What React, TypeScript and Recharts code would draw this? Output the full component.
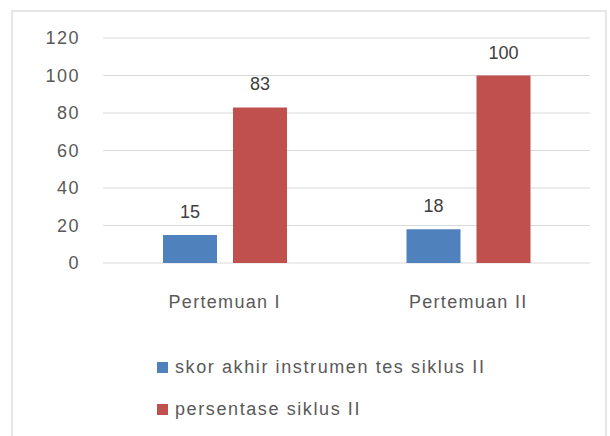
import { BarChart, Bar, XAxis, YAxis, CartesianGrid, LabelList } from 'recharts';

const categories = ['Pertemuan I', 'Pertemuan II'];
const skorAkhir = [15, 18];
const persentase = [83, 100];
const yTicks = [0, 20, 40, 60, 80, 100, 120];

const seriesNames = ['skor akhir instrumen tes siklus II', 'persentase siklus II'];
const seriesColors = ['#4f81bd', '#c0504d'];

const chartData = categories.map((name, i) => ({
  name,
  skor: skorAkhir[i],
  persen: persentase[i],
}));

const font = '"Liberation Sans", Arial, sans-serif';

export default function App() {
  return (
    <div
      style={{
        position: 'absolute',
        left: 0,
        top: 0,
        width: 610,
        height: 436,
        background: '#fff',
        fontFamily: font,
        overflow: 'hidden',
      }}
    >
      {/* chart frame */}
      <div
        style={{
          position: 'absolute',
          left: 11,
          top: 10,
          width: 596,
          height: 440,
          border: '2px solid #e6e6e6',
          borderBottom: 'none',
          boxSizing: 'border-box',
        }}
      />
      <div style={{ position: 'absolute', left: 0, top: 0 }}>
        <BarChart
          width={610}
          height={436}
          data={chartData}
          margin={{ top: 38, right: 20, left: 23, bottom: 133 }}
          barCategoryGap={60}
          barGap={16}
        >
          <CartesianGrid vertical={false} stroke="#d9d9d9" />
          <XAxis
            dataKey="name"
            axisLine={false}
            tickLine={false}
            height={40}
            tick={{ fill: '#595959', fontSize: 18, fontFamily: font, letterSpacing: 1.3 }}
            dy={24}
          />
          <YAxis
            domain={[0, 120]}
            ticks={yTicks}
            axisLine={false}
            tickLine={false}
            width={80}
            tick={{ fill: '#595959', fontSize: 18, fontFamily: font, letterSpacing: 1.5 }}
            dx={-15}
          />
          <Bar dataKey="skor" fill={seriesColors[0]} isAnimationActive={false}>
            <LabelList dataKey="skor" position="top" offset={17} fill="#404040" fontSize={18} fontFamily={font} />
          </Bar>
          <Bar dataKey="persen" fill={seriesColors[1]} isAnimationActive={false}>
            <LabelList dataKey="persen" position="top" offset={17} fill="#404040" fontSize={18} fontFamily={font} />
          </Bar>
        </BarChart>
      </div>
      {seriesNames.map((n, i) => (
        <div
          key={n}
          style={{
            position: 'absolute',
            left: 157,
            top: 357 + i * 42,
            display: 'flex',
            alignItems: 'center',
            fontSize: 18,
            letterSpacing: 1.6,
            color: '#595959',
            whiteSpace: 'nowrap',
          }}
        >
          <span style={{ width: 11, height: 11, background: seriesColors[i], marginRight: 7, display: 'inline-block' }} />
          {n}
        </div>
      ))}
    </div>
  );
}
